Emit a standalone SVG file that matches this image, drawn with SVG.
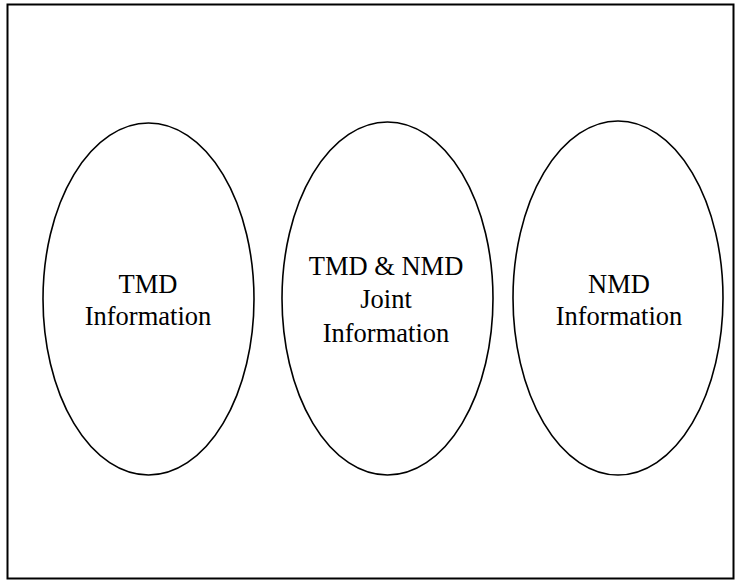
<svg xmlns="http://www.w3.org/2000/svg" width="735" height="581" viewBox="0 0 735 581">
<style>
.frame{fill:none;stroke:#000;stroke-width:2}
.node{fill:#fff;stroke:#000;stroke-width:1.6}
.lbl{font-family:"Liberation Serif","Times New Roman",serif;font-size:26.5px;fill:#000;text-anchor:middle}
</style>
<rect class="frame" x="7.5" y="4.5" width="726" height="574"/>
<g id="tmd">
<ellipse class="node" cx="148.5" cy="299" rx="105.5" ry="176"/>
<text class="lbl" x="148" y="293">TMD</text>
<text class="lbl" x="148" y="325">Information</text>
</g>
<g id="joint">
<ellipse class="node" cx="387.5" cy="298.5" rx="105.5" ry="176.5"/>
<text class="lbl" x="386" y="275">TMD &amp; NMD</text>
<text class="lbl" x="386" y="308">Joint</text>
<text class="lbl" x="386" y="342">Information</text>
</g>
<g id="nmd">
<ellipse class="node" cx="618" cy="298" rx="105" ry="177"/>
<text class="lbl" x="619" y="293">NMD</text>
<text class="lbl" x="619" y="325">Information</text>
</g>
<g id="connectors"/>
</svg>
